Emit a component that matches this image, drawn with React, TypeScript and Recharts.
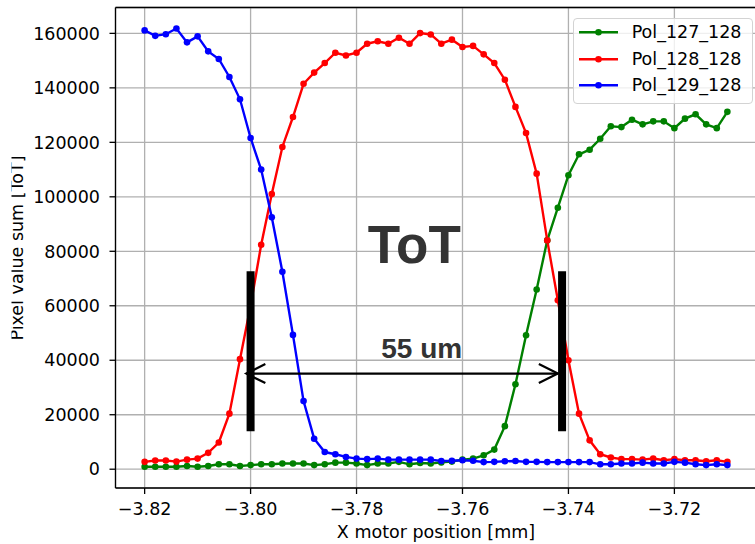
import React from "react";
import {
  CartesianGrid,
  Legend,
  Line,
  LineChart,
  ReferenceDot,
  ReferenceLine,
  XAxis,
  YAxis,
} from "recharts";

// motor positions [mm]
const xPosition = [
  -3.82, -3.818, -3.816, -3.814, -3.812, -3.81, -3.808, -3.806, -3.804, -3.802,
  -3.8, -3.798, -3.796, -3.794, -3.792, -3.79, -3.788, -3.786, -3.784, -3.782,
  -3.78, -3.778, -3.776, -3.774, -3.772, -3.77, -3.768, -3.766, -3.764, -3.762,
  -3.76, -3.758, -3.756, -3.754, -3.752, -3.75, -3.748, -3.746, -3.744, -3.742,
  -3.74, -3.738, -3.736, -3.734, -3.732, -3.73, -3.728, -3.726, -3.724, -3.722,
  -3.72, -3.718, -3.716, -3.714, -3.712, -3.71,
];

const pol127 = [
  900, 900, 900, 900, 1200, 900, 1200, 1800, 1800, 1200,
  1500, 1800, 1800, 2100, 2100, 2100, 1500, 1800, 2400, 2400,
  2100, 1500, 2100, 2100, 2700, 1800, 2300, 2100, 2500, 2800,
  3500, 3900, 5100, 7200, 15800, 31200, 49200, 66000, 84000, 96000,
  107900, 115600, 117300, 121300, 125900, 125600, 128300, 126600, 127700, 127700,
  125200, 128700, 130300, 126600, 125200, 131200,
];

const pol128 = [
  2700, 3200, 3200, 2800, 3500, 3900, 6000, 9800, 20400, 40400,
  60000, 82400, 101000, 118300, 129300, 141500, 145600, 149100, 152900, 151900,
  152900, 156200, 157100, 156200, 158400, 156200, 160100, 159600, 156200, 157700,
  155000, 155400, 152300, 149100, 143000, 133000, 123400, 108500, 84000, 62000,
  40000, 20400, 10600, 5500, 4300, 3700, 3700, 3500, 3900, 3300,
  3700, 3300, 3300, 2900, 3300, 2700,
];

const pol129 = [
  161100, 159100, 159700, 161800, 156700, 158900, 153400, 150600, 144000, 135800,
  121600, 110000, 92500, 72500, 49300, 25000, 11200, 6300, 5500, 4500,
  3900, 3700, 3900, 3500, 3500, 3500, 3500, 3500, 3000, 3100,
  3300, 3100, 2600, 2700, 2900, 3000, 2700, 2700, 2600, 2600,
  2600, 2600, 2600, 1800, 1800, 2100, 2100, 2400, 2100, 2100,
  2700, 2400, 1800, 1500, 1800, 1500,
];

const seriesNames = ["Pol_127_128", "Pol_128_128", "Pol_129_128"];
const xTicks = [-3.82, -3.8, -3.78, -3.76, -3.74, -3.72];
const yTicks = [0, 20000, 40000, 60000, 80000, 100000, 120000, 140000, 160000];

const data = xPosition.map((x, i) => ({
  x,
  pol127: pol127[i],
  pol128: pol128[i],
  pol129: pol129[i],
}));

const FONT = '"DejaVu Sans", sans-serif';
const ANNOT_FONT = '"Liberation Sans", Arial, sans-serif';
const X_DOMAIN = [-3.8255, -3.7045];
const Y_DOMAIN = [-6900, 169500];

const fmtX = (v: number) => (v < 0 ? "\u2212" : "") + Math.abs(v).toFixed(2);

function ArrowShape(props: any) {
  const { x1, y1, x2, y2 } = props;
  const head = 19;
  const half = 9.5;
  return (
    <g stroke="#000" strokeWidth={2.2} fill="none">
      <line x1={x1} y1={y1} x2={x2} y2={y2} />
      <polyline points={`${x1 + head},${y1 - half} ${x1},${y1} ${x1 + head},${y1 + half}`} />
      <polyline points={`${x2 - head},${y2 - half} ${x2},${y2} ${x2 - head},${y2 + half}`} />
    </g>
  );
}

function LegendBox({ payload }: any) {
  return (
    <div
      style={{
        position: "relative",
        width: 180,
        height: 86,
        boxSizing: "border-box",
        border: "1px solid #d3d3d3",
        borderRadius: 4,
        background: "rgba(255,255,255,0.8)",
        fontFamily: FONT,
        fontSize: 17.5,
        color: "#000",
      }}
    >
      {(payload ?? []).map((item: any, i: number) => (
        <div
          key={i}
          style={{
            position: "absolute",
            left: 0,
            top: 0 + i * 26.5,
            height: 26.5,
            display: "flex",
            alignItems: "center",
            whiteSpace: "nowrap",
          }}
        >
          <svg width={58} height={26.5} style={{ display: "block" }}>
            <line x1={5} x2={44} y1={13.25} y2={13.25} stroke={item.color} strokeWidth={2.4} />
            <circle cx={24.5} cy={13.25} r={3.3} fill={item.color} />
          </svg>
          <span style={{ lineHeight: "26.5px" }}>{item.value}</span>
        </div>
      ))}
    </div>
  );
}

export default function App() {
  const tickStyle = { fill: "#000", fontSize: 17.5, fontFamily: FONT };
  return (
    <div
      style={{
        position: "absolute",
        left: 0,
        top: 0,
        width: 755,
        height: 544,
        overflow: "hidden",
        background: "#fff",
      }}
    >
      <LineChart width={762} height={544} data={data} margin={{ top: 7.5, right: 5.5, bottom: 0, left: 0 }}>
        <CartesianGrid stroke="#b0b0b0" strokeWidth={1.3} />
        <XAxis
          dataKey="x"
          type="number"
          domain={X_DOMAIN}
          ticks={xTicks}
          tickFormatter={fmtX}
          allowDataOverflow
          height={56}
          tickSize={6}
          tickMargin={9}
          tick={tickStyle}
          axisLine={{ stroke: "#000", strokeWidth: 1.3 }}
          tickLine={{ stroke: "#000", strokeWidth: 1.3 }}
          label={{
            content: (p: any) => (
              <text
                x={p.viewBox.x + p.viewBox.width / 2}
                y={p.viewBox.y + 50}
                textAnchor="middle"
                fontFamily={FONT}
                fontSize={17.5}
                fill="#000"
              >
                X motor position [mm]
              </text>
            ),
          }}
        />
        <YAxis
          type="number"
          domain={Y_DOMAIN}
          ticks={yTicks}
          allowDataOverflow
          width={115.5}
          tickSize={6}
          tickMargin={9.5}
          tick={tickStyle}
          axisLine={{ stroke: "#000", strokeWidth: 1.3 }}
          tickLine={{ stroke: "#000", strokeWidth: 1.3 }}
          label={{
            content: () => (
              <g>
                <text
                  transform="translate(22.5, 248) rotate(-90)"
                  textAnchor="middle"
                  fontFamily={FONT}
                  fontSize={17.5}
                  fill="#000"
                >
                  Pixel value sum [ToT]
                </text>
                <rect x={0} y={100} width={11.5} height={300} fill="#fff" />
              </g>
            ),
          }}
        />
        <ReferenceLine y={Y_DOMAIN[1]} stroke="#000" strokeWidth={1.3} ifOverflow="visible" />
        <Legend
          layout="vertical"
          align="center"
          verticalAlign="middle"
          wrapperStyle={{ left: 572.7, top: 18, width: 180, height: 86 }}
          content={LegendBox}
        />
        <Line
          dataKey="pol127"
          name={seriesNames[0]}
          stroke="#008000"
          strokeWidth={2.4}
          dot={{ r: 3.3, fill: "#008000", stroke: "none" }}
          activeDot={false}
          isAnimationActive={false}
        />
        <Line
          dataKey="pol128"
          name={seriesNames[1]}
          stroke="#ff0000"
          strokeWidth={2.4}
          dot={{ r: 3.3, fill: "#ff0000", stroke: "none" }}
          activeDot={false}
          isAnimationActive={false}
        />
        <Line
          dataKey="pol129"
          name={seriesNames[2]}
          stroke="#0000ff"
          strokeWidth={2.4}
          dot={{ r: 3.3, fill: "#0000ff", stroke: "none" }}
          activeDot={false}
          isAnimationActive={false}
        />
        <ReferenceLine
          segment={[{ x: -3.8, y: 13900 }, { x: -3.8, y: 72700 }]}
          stroke="#000"
          strokeWidth={8}
          ifOverflow="visible"
          zIndex={1000}
        />
        <ReferenceLine
          segment={[{ x: -3.7412, y: 13900 }, { x: -3.7412, y: 72700 }]}
          stroke="#000"
          strokeWidth={8}
          ifOverflow="visible"
          zIndex={1000}
        />
        <ReferenceLine
          segment={[{ x: -3.8008, y: 35100 }, { x: -3.742, y: 35100 }]}
          shape={ArrowShape}
          ifOverflow="visible"
          zIndex={1000}
        />
        <ReferenceDot
          x={-3.7691}
          y={82750}
          r={0}
          fill="none"
          stroke="none"
          zIndex={1000}
          label={{ value: "ToT", position: "center", fontSize: 53, fontWeight: 700, fill: "#333333", fontFamily: ANNOT_FONT }}
        />
        <ReferenceDot
          x={-3.7677}
          y={44300}
          r={0}
          fill="none"
          stroke="none"
          zIndex={1000}
          label={{ value: "55 um", position: "center", fontSize: 28, fontWeight: 700, fill: "#333333", fontFamily: ANNOT_FONT }}
        />
      </LineChart>
    </div>
  );
}
